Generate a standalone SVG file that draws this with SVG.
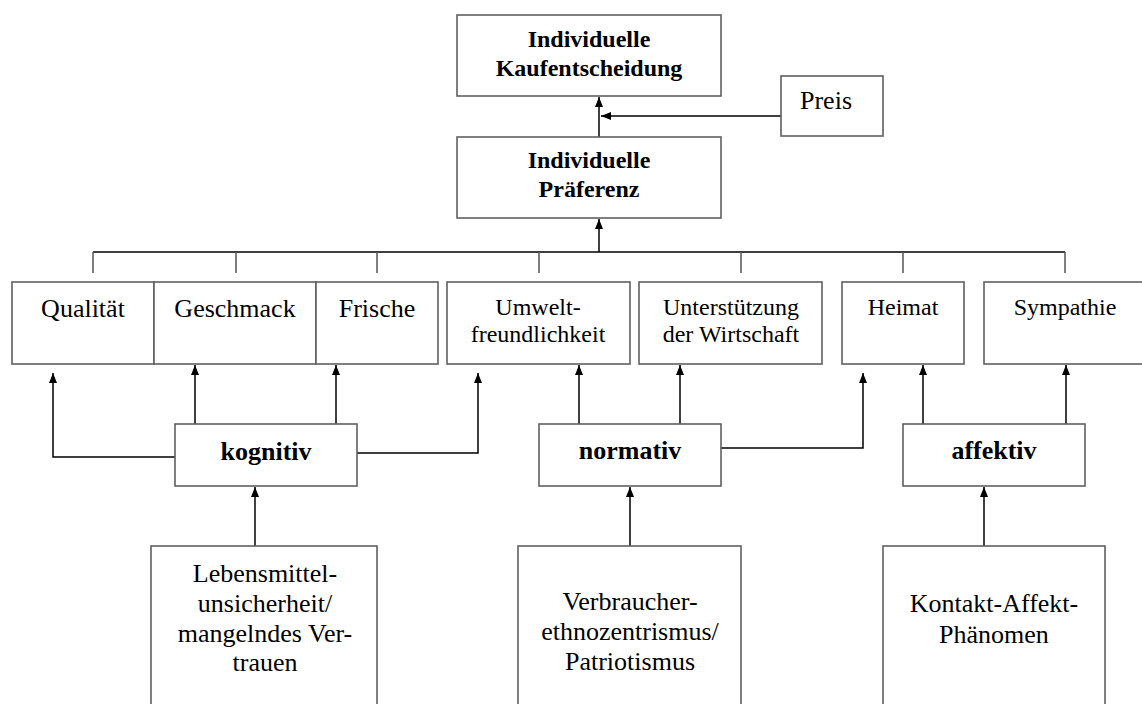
<svg xmlns="http://www.w3.org/2000/svg" width="1142" height="704" viewBox="0 0 1142 704">
<defs>
<style>
.box{fill:#fff;stroke:#606060;stroke-width:1.6}
.ln{fill:none;stroke:#000;stroke-width:1.5}
.tk{fill:none;stroke:#555;stroke-width:1.5}
.t{font-family:"Liberation Serif","Times New Roman",serif;fill:#000;text-anchor:middle}
.b{font-weight:bold}
.s24{font-size:24px}
.s26{font-size:26px}
</style>
<marker id="ah" markerWidth="10" markerHeight="10" viewBox="0 0 10 10" refX="10" refY="5" orient="auto" markerUnits="userSpaceOnUse">
<path d="M0,1 L10,5 L0,9 Z" fill="#000"/>
</marker>
</defs>
<rect width="1142" height="704" fill="#fff"/>

<g id="connectors">
<path class="ln" d="M599,137 V97" marker-end="url(#ah)"/>
<path class="ln" d="M781,116 H601" marker-end="url(#ah)"/>
<path class="ln" d="M93,252 H1065"/>
<path class="ln" d="M599,252 V219" marker-end="url(#ah)"/>
<path class="tk" d="M93,252 V273 M236,252 V273 M377,252 V273 M539,252 V273 M741,252 V273 M903,252 V273 M1065,252 V273"/>
<path class="ln" d="M175,457 H53 V373" marker-end="url(#ah)"/>
<path class="ln" d="M195,424 V365" marker-end="url(#ah)"/>
<path class="ln" d="M336,424 V365" marker-end="url(#ah)"/>
<path class="ln" d="M357,453 H478 V373" marker-end="url(#ah)"/>
<path class="ln" d="M579,424 V365" marker-end="url(#ah)"/>
<path class="ln" d="M680,424 V365" marker-end="url(#ah)"/>
<path class="ln" d="M721,448 H863 V373" marker-end="url(#ah)"/>
<path class="ln" d="M923,424 V365" marker-end="url(#ah)"/>
<path class="ln" d="M1066,424 V365" marker-end="url(#ah)"/>
<path class="ln" d="M255,546 V487" marker-end="url(#ah)"/>
<path class="ln" d="M630,546 V487" marker-end="url(#ah)"/>
<path class="ln" d="M984,546 V487" marker-end="url(#ah)"/>
</g>

<g id="kaufentscheidung">
<rect class="box" x="457" y="15" width="264" height="81"/>
<text class="t b s24" x="589" y="47">Individuelle</text>
<text class="t b s24" x="589" y="76">Kaufentscheidung</text>
</g>
<g id="preis">
<rect class="box" x="781" y="76" width="102" height="60"/>
<text class="t s26" x="826" y="109">Preis</text>
</g>
<g id="praeferenz">
<rect class="box" x="457" y="137" width="264" height="81"/>
<text class="t b s24" x="589" y="168">Individuelle</text>
<text class="t b s24" x="589" y="197">Präferenz</text>
</g>

<g id="qualitaet">
<rect class="box" x="12" y="282" width="142" height="82"/>
<text class="t s26" x="83" y="317">Qualität</text>
</g>
<g id="geschmack">
<rect class="box" x="154" y="282" width="162" height="82"/>
<text class="t s26" x="235" y="317">Geschmack</text>
</g>
<g id="frische">
<rect class="box" x="316" y="282" width="122" height="82"/>
<text class="t s26" x="377" y="317">Frische</text>
</g>
<g id="umwelt">
<rect class="box" x="447" y="282" width="183" height="82"/>
<text class="t s24" x="538" y="315">Umwelt-</text>
<text class="t s24" x="538" y="342">freundlichkeit</text>
</g>
<g id="unterstuetzung">
<rect class="box" x="639" y="282" width="183" height="82"/>
<text class="t s24" x="731" y="315">Unterstützung</text>
<text class="t s24" x="731" y="342">der Wirtschaft</text>
</g>
<g id="heimat">
<rect class="box" x="842" y="282" width="122" height="82"/>
<text class="t s24" x="903" y="315">Heimat</text>
</g>
<g id="sympathie">
<rect class="box" x="984" y="282" width="162" height="82"/>
<text class="t s24" x="1065" y="315">Sympathie</text>
</g>

<g id="kognitiv">
<rect class="box" x="175" y="424" width="182" height="62"/>
<text class="t b s26" x="266" y="460">kognitiv</text>
</g>
<g id="normativ">
<rect class="box" x="539" y="424" width="182" height="62"/>
<text class="t b s26" x="630" y="459">normativ</text>
</g>
<g id="affektiv">
<rect class="box" x="903" y="424" width="182" height="62"/>
<text class="t b s26" x="994" y="459">affektiv</text>
</g>

<g id="lebensmittel">
<rect class="box" x="151" y="546" width="226" height="170"/>
<text class="t s26" x="265" y="582">Lebensmittel-</text>
<text class="t s26" x="265" y="612">unsicherheit/</text>
<text class="t s26" x="265" y="642">mangelndes Ver-</text>
<text class="t s26" x="265" y="671">trauen</text>
</g>
<g id="verbraucher">
<rect class="box" x="518" y="546" width="223" height="170"/>
<text class="t s26" x="630" y="610">Verbraucher-</text>
<text class="t s26" x="630" y="640">ethnozentrismus/</text>
<text class="t s26" x="630" y="670">Patriotismus</text>
</g>
<g id="kontakt">
<rect class="box" x="883" y="546" width="222" height="170"/>
<text class="t s26" x="994" y="612">Kontakt-Affekt-</text>
<text class="t s26" x="994" y="643">Phänomen</text>
</g>
</svg>
